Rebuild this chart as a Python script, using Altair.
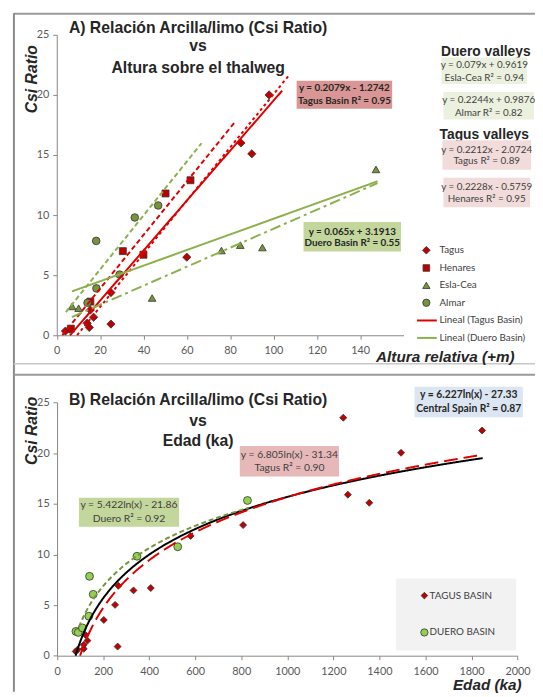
import altair as alt
import pandas as pd

W, H = 535, 689

# ---------------- Panel A data (Altura relativa vs Csi Ratio) ----------------
tagus_a_x = [4, 6, 14, 15, 17, 15.5, 25, 25, 60, 85, 90, 98]
tagus_a_y = [0.35, 0.5, 1.0, 0.65, 1.5, 2.1, 0.93, 3.55, 6.5, 16.0, 15.1, 20.0]
henares_x = [6.5, 15.5, 30.5, 40, 50.2, 61.7]
henares_y = [0.55, 2.8, 7.0, 6.7, 11.8, 12.9]
eslacea_x = [7.1, 10.1, 44, 76, 84.7, 94.9, 147.3]
eslacea_y = [2.4, 2.25, 3.1, 7.05, 7.5, 7.3, 13.8]
almar_x = [14.2, 18.3, 18.2, 29, 36, 46.8]
almar_y = [2.7, 3.9, 7.85, 5.05, 9.8, 10.8]

# linear trend lines printed on panel A
lin_names = ["Tagus Basin", "Tagus", "Henares", "Almar", "Esla-Cea", "Duero Basin"]
lin_slope = [0.2079, 0.2212, 0.2228, 0.2244, 0.079, 0.065]
lin_icpt = [-1.2742, -2.0724, -0.5759, 0.9876, 0.9619, 3.1913]
lin_x0 = [6.1, 9.4, 2.6, 4.2, 7, 7]
lin_x1 = [104, 107, 82, 66.8, 148, 148]

xa_ticks = [0, 20, 40, 60, 80, 100, 120, 140]
ya_ticks = [0, 5, 10, 15, 20, 25]

# ---------------- Panel B data (Edad vs Csi Ratio) ----------------
tagus_b_x = [81, 89, 116, 116, 124, 132, 203, 252, 263, 266, 332, 407, 580, 808, 1243, 1263, 1356, 1494, 1846]
tagus_b_y = [0.42, 0.6, 0.68, 1.07, 2.04, 1.49, 3.53, 5.02, 0.9, 6.9, 6.45, 6.68, 11.83, 12.9, 23.5, 15.9, 15.1, 20.04, 22.24]
duero_b_x = [82, 92, 110, 138, 141, 157, 347, 524, 827]
duero_b_y = [2.4, 2.3, 2.75, 3.9, 7.84, 6.06, 9.82, 10.76, 15.33]

log_names = ["Central Spain", "Tagus", "Duero"]
log_a = [6.227, 6.805, 5.422]
log_b = [-27.33, -31.34, -21.86]
log_x0 = [80.6, 100, 95]
log_x1 = [1850, 1850, 835]

xb_ticks = list(range(0, 2001, 200))
yb_ticks = [0, 5, 10, 15, 20, 25]

legend_a_labels = ["Tagus", "Henares", "Esla-Cea", "Almar", "Lineal (Tagus Basin)", "Lineal (Duero Basin)"]
legend_b_labels = ["TAGUS BASIN", "DUERO BASIN"]

# ---------------- styles ----------------
RED_M = "#c00000"
GREEN_M = "#77933c"
RED_L = "#e00000"
GREEN_L = "#8db04c"
LIGHT_GREEN = "#92d050"
OUT = "#333333"

XA = alt.Scale(domain=[0, 160], range=[49.5, 401.5], nice=False, zero=False)
YA = alt.Scale(domain=[0, 25], range=[327, 22], nice=False, zero=False)
XB = alt.Scale(domain=[0, 2000], range=[49.8, 517.3], nice=False, zero=False)
YB = alt.Scale(domain=[0, 25], range=[652.3, 395.3], nice=False, zero=False)

ax_common = dict(grid=False, title=None, domainColor="#868686", tickColor="#868686",
                 tickSize=4, labelColor="#595959", labelFont="Lato", labelFontSize=11,
                 labelFlush=False, labelOverlap=False, format="d")


def pts(xs, ys, XS, YS, shape, fill, size, axx=None, axy=None):
    df = pd.DataFrame({"x": xs, "y": ys})
    return alt.Chart(df).mark_point(shape=shape, filled=True, fill=fill, size=size,
                                    stroke=OUT, strokeWidth=0.8, opacity=1).encode(
        x=alt.X("x:Q", scale=XS, axis=axx),
        y=alt.Y("y:Q", scale=YS, axis=axy),
    )


# ---------------- Panel A ----------------
axA_x = alt.Axis(orient="bottom", offset=327 - H, values=xa_ticks, labelPadding=6, **ax_common)
axA_y = alt.Axis(orient="left", offset=-49.5, values=ya_ticks, labelPadding=4, **ax_common)

layersA = [
    pts(henares_x, henares_y, XA, YA, "square", RED_M, 50),
    pts(eslacea_x, eslacea_y, XA, YA, "triangle-up", GREEN_M, 60),
    pts(almar_x, almar_y, XA, YA, "circle", GREEN_M, 60),
    pts(tagus_a_x, tagus_a_y, XA, YA, "diamond", RED_M, 70, axA_x, axA_y),
]

lin_df = pd.DataFrame({"name": lin_names, "slope": lin_slope, "icpt": lin_icpt,
                       "x0": lin_x0, "x1": lin_x1})
lin_color = [RED_L, RED_L, RED_L, GREEN_L, GREEN_L, GREEN_L]
lin_dash = [[1, 0], [3, 3], [5, 3], [5, 3], [11, 4, 3, 4], [1, 0]]
for i, nm in enumerate(lin_names):
    layersA.append(
        alt.Chart(lin_df).transform_filter(alt.datum.name == nm).transform_calculate(
            y0="datum.slope*datum.x0+datum.icpt", y1="datum.slope*datum.x1+datum.icpt"
        ).mark_rule(color=lin_color[i], strokeWidth=2, strokeDash=lin_dash[i]).encode(
            x=alt.X("x0:Q", scale=XA, axis=None), x2="x1:Q",
            y=alt.Y("y0:Q", scale=YA, axis=None), y2="y1:Q",
        )
    )

# ---------------- Panel B ----------------
axB_x = alt.Axis(orient="bottom", offset=652.3 - H, values=xb_ticks, labelPadding=6, **ax_common)
axB_y = alt.Axis(orient="left", offset=-49.8, values=yb_ticks, labelPadding=4, **ax_common)

layersB = [
    pts(duero_b_x, duero_b_y, XB, YB, "circle", LIGHT_GREEN, 64, axB_x, axB_y),
    pts(tagus_b_x, tagus_b_y, XB, YB, "diamond", RED_M, 50),
]
log_color = ["#000000", RED_L, GREEN_M]
log_dash = [[1, 0], [14, 6], [5, 3]]
for i, nm in enumerate(log_names):
    layersB.append(
        alt.Chart(alt.sequence(log_x0[i], log_x1[i], 4, as_="x")).transform_calculate(
            y=f"{log_a[i]}*log(datum.x)+({log_b[i]})"
        ).mark_line(color=log_color[i], strokeWidth=2, strokeDash=log_dash[i]).encode(
            x=alt.X("x:Q", scale=XB, axis=None),
            y=alt.Y("y:Q", scale=YB, axis=None),
        )
    )

# ---------------- decorations (pixel positions) ----------------
base = alt.Chart(pd.DataFrame({"_": [0]}))
deco = []


def txt(s, x, y, size=10.5, weight="normal", style="normal", color="#404040",
        font="Lato", align="center", angle=0, baseline="middle"):
    kw = dict(text=s, fontSize=size, fontWeight=weight, fontStyle=style, color=color,
              font=font, align=align, baseline=baseline)
    if angle:
        kw["angle"] = angle
    deco.append(base.mark_text(**kw).encode(x=alt.value(x), y=alt.value(y)))


def box(x1, y1, x2, y2, fill):
    deco.append(base.mark_rect(fill=fill).encode(
        x=alt.value(x1), x2=alt.value(x2), y=alt.value(y1), y2=alt.value(y2)))


def seg(x1, y1, x2, y2, color, width=1.0):
    deco.append(base.mark_rule(color=color, strokeWidth=width).encode(
        x=alt.value(x1), x2=alt.value(x2), y=alt.value(y1), y2=alt.value(y2)))


def sym(x, y, shape, fill, size):
    deco.append(base.mark_point(shape=shape, filled=True, fill=fill, size=size,
                                stroke=OUT, strokeWidth=0.8, opacity=1).encode(
        x=alt.value(x), y=alt.value(y)))


# frame
seg(6, 0.5, W, 0.5, "#9a9a9a", 2)
seg(6, 0, 6, H, "#8a8a8a", 2)
seg(6, 356, W, 356, "#c8c8c8", 1.5)
seg(6, 367, W, 367, "#9a9a9a", 2)

TF = "Liberation Sans"
TC = "#262626"
# titles A
txt("A) Relación Arcilla/limo (Csi Ratio)", 193, 20.3, 16, "bold", font=TF, color=TC, baseline="alphabetic")
txt("vs", 193, 38.7, 16, "bold", font=TF, color=TC, baseline="alphabetic")
txt("Altura sobre el thalweg", 193, 60.3, 16, "bold", font=TF, color=TC, baseline="alphabetic")
txt("Csi Ratio", 24, 67, 16, "bold", "italic", font=TF, color=TC, angle=270)
txt("Altura relativa (+m)", 444, 354.5, 15.5, "bold", "italic", font=TF, color=TC, baseline="alphabetic")

# titles B
txt("B) Relación Arcilla/limo (Csi Ratio)", 193, 397.7, 16, "bold", font=TF, color=TC, baseline="alphabetic")
txt("vs", 193, 418.7, 16, "bold", font=TF, color=TC, baseline="alphabetic")
txt("Edad (ka)", 193, 439.3, 16, "bold", font=TF, color=TC, baseline="alphabetic")
txt("Csi Ratio", 24, 424, 16, "bold", "italic", font=TF, color=TC, angle=270)
txt("Edad (ka)", 486.5, 687.5, 15.5, "bold", "italic", font=TF, color=TC, baseline="alphabetic")

# equation boxes, panel A
box(293, 68.7, 390, 97, "#d99694")
txt("y = 0.2079x - 1.2742", 341.5, 76, 10, "bold", color=TC)
txt("Tagus Basin R² = 0.95", 341.5, 89, 10, "bold", color=TC)

txt("Duero valleys", 485, 43.7, 14, "bold", font=TF, color=TC, baseline="alphabetic")
box(440, 45, 527, 72, "#ebf1de")
txt("y = 0.079x + 0.9619", 483.5, 53, 10)
txt("Esla-Cea  R² = 0.94", 483.5, 66, 10)
box(442, 80, 534, 108, "#ebf1de")
txt("y = 0.2244x + 0.9876", 488, 88, 10)
txt("Almar  R² = 0.82", 488, 101.5, 10)

txt("Tagus valleys", 483.5, 128, 14, "bold", font=TF, color=TC, baseline="alphabetic")
box(441, 129, 531, 159, "#f2dcdb")
txt("y = 0.2212x - 2.0724", 486, 138.7, 10)
txt("Tagus R² = 0.89", 486, 150.5, 10)
box(442, 167, 530, 197, "#f2dcdb")
txt("y = 0.2228x - 0.5759", 486, 177, 10)
txt("Henares  R² = 0.95", 486, 188.7, 10)

box(300, 212, 399, 242, "#c3d69b")
txt("y = 0.065x + 3.1913", 349.5, 222, 10, "bold", color=TC)
txt("Duero Basin R² = 0.55", 349.5, 233.5, 10, "bold", color=TC)

# legend A
leg_y = [240.7, 258.7, 276.3, 294, 312, 329.7]
sym(424.7, leg_y[0], "diamond", RED_M, 60)
sym(424.7, leg_y[1], "square", RED_M, 45)
sym(424.7, leg_y[2], "triangle-up", GREEN_M, 55)
sym(424.7, leg_y[3], "circle", GREEN_M, 55)
seg(415.3, leg_y[4], 435.3, leg_y[4], RED_L, 2)
seg(415.3, leg_y[5], 435.3, leg_y[5], GREEN_L, 2)
for lab, yy in zip(legend_a_labels, leg_y):
    txt(lab, 438, yy, 10, align="left")

# equation boxes, panel B
box(412.7, 379.3, 522.7, 410.3, "#dce6f2")
txt("y = 6.227ln(x) - 27.33", 467.7, 388, 10.5, "bold", color=TC)
txt("Central Spain R² = 0.87", 467.7, 402, 10.5, "bold", color=TC)
box(235.3, 439.3, 336, 470.3, "#e6b9b8")
txt("y = 6.805ln(x) - 31.34", 285.7, 448.7, 10.5)
txt("Tagus R² = 0.90", 285.7, 462, 10.5)
box(72, 492, 173.7, 521.3, "#c3d69b")
txt("y = 5.422ln(x) - 21.86", 122.8, 499.3, 10.5)
txt("Duero R² = 0.92", 122.8, 513.7, 10.5)

# legend B
box(394, 574, 516, 647, "#f2f2f2")
sym(422.7, 591.3, "diamond", RED_M, 45)
sym(422.7, 628.7, "circle", LIGHT_GREEN, 55)
txt(legend_b_labels[0], 428, 591.3, 10, align="left")
txt(legend_b_labels[1], 428, 628.7, 10, align="left")

chart = alt.layer(*deco, *layersA, *layersB).resolve_scale(
    x="independent", y="independent"
).properties(
    width=W, height=H, padding=0, autosize=alt.AutoSizeParams(type="none"),
    background="white",
).configure_view(stroke=None)

chart.save("out.html", embed_options={"renderer": "svg", "actions": False})
